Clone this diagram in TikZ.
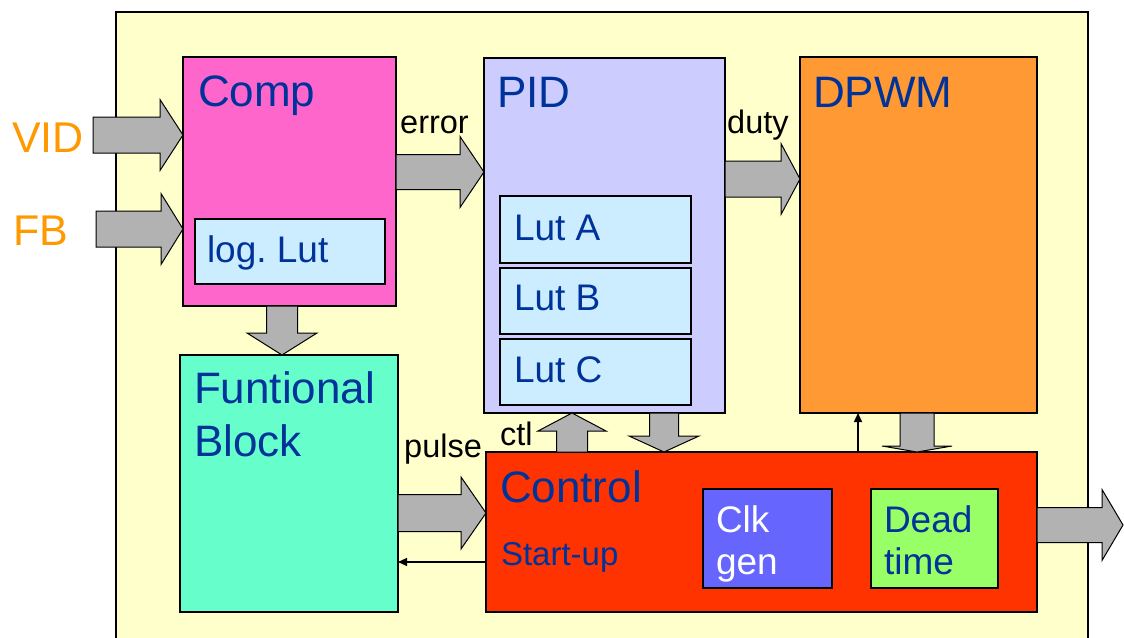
\documentclass[tikz,border=0pt]{standalone}
\usepackage{fontspec}
\setmainfont{Liberation Sans}
\usetikzlibrary{calc,arrows.meta}

\definecolor{bgyellow}{HTML}{FFFFCC}
\definecolor{compfill}{HTML}{FF66CC}
\definecolor{lutfill}{HTML}{CCECFF}
\definecolor{funcfill}{HTML}{66FFCC}
\definecolor{pidfill}{HTML}{CCCCFF}
\definecolor{dpwmfill}{HTML}{FF9933}
\definecolor{ctrlfill}{HTML}{FF3300}
\definecolor{clkfill}{HTML}{6666FF}
\definecolor{deadfill}{HTML}{99FF66}
\definecolor{textblue}{HTML}{003399}
\definecolor{arrowgray}{HTML}{B2B2B2}
\definecolor{signalorange}{HTML}{FF9900}

\tikzset{
  block/.style={draw=black, line width=1.4pt, anchor=north west, inner sep=0pt, outer sep=0pt},
  fat/.style={draw=black, line width=1pt, fill=arrowgray, line join=miter},
  wire/.style={draw=black, line width=1.5pt, -{Triangle[length=9pt,width=8pt]}},
  txt/.style={anchor=base west, inner sep=0pt, outer sep=0pt, text=textblue},
  title/.style={txt, font=\fontsize{44}{50}\selectfont},
  sub/.style={txt, font=\fontsize{37}{42}\selectfont},
  sig/.style={anchor=base west, inner sep=0pt, text=black, font=\fontsize{32.5}{38}\selectfont},
  port/.style={anchor=base west, inner sep=0pt, text=signalorange, font=\fontsize{43}{48}\selectfont},
}

% wide block arrow: #1 start, #2 tip, #3 half body width, #4 half head width, #5 head length
\newcommand\fatarrow[5]{%
  \path ($(#2)!#5pt!(#1)$) coordinate (fa-base);
  \draw[fat] ($(#1)!#3pt!90:(#2)$) -- ($(fa-base)!#3pt!90:(#2)$)
    -- ($(fa-base)!#4pt!90:(#2)$) -- (#2)
    -- ($(fa-base)!#4pt!-90:(#2)$) -- ($(fa-base)!#3pt!-90:(#2)$)
    -- ($(#1)!#3pt!-90:(#2)$) -- cycle;}

\begin{document}
\begin{tikzpicture}[x=1pt,y=-1pt]
\useasboundingbox (0,0) rectangle (1124,637);
\clip (0,0) rectangle (1124,637);

% outer board
\node[block, line width=2.6pt, fill=bgyellow, minimum width=972pt, minimum height=660pt] (board) at (116,12) {};

% main blocks
\node[block, fill=compfill, minimum width=213pt, minimum height=249pt] (comp) at (183,57) {};
\node[block, fill=lutfill, minimum width=190pt, minimum height=65pt] (loglut) at (195,219) {};
\node[block, fill=funcfill, minimum width=218pt, minimum height=257pt] (func) at (180,355) {};
\node[block, fill=pidfill, minimum width=241pt, minimum height=355pt] (pid) at (484,58) {};
\node[block, fill=lutfill, minimum width=191pt, minimum height=67pt] (luta) at (500,196) {};
\node[block, fill=lutfill, minimum width=191pt, minimum height=66pt] (lutb) at (500,268) {};
\node[block, fill=lutfill, minimum width=191pt, minimum height=66pt] (lutc) at (500,339) {};
\node[block, fill=dpwmfill, minimum width=237pt, minimum height=356pt] (dpwm) at (800,57) {};
\node[block, fill=ctrlfill, minimum width=551pt, minimum height=160pt] (ctrl) at (486,452) {};
\node[block, fill=clkfill, minimum width=129pt, minimum height=99pt] (clk) at (703,489) {};
\node[block, fill=deadfill, minimum width=127pt, minimum height=99pt] (dead) at (871,489) {};

% reference levels for the arrows
\coordinate (vidS) at (93,135);
\coordinate (fbS) at (96,229);
\coordinate (errY) at (0,172);
\coordinate (dutyY) at (0,179);
\coordinate (pulseY) at (0,513);
\coordinate (startY) at (0,562);
\coordinate (outY) at (0,525);
\coordinate (outE) at (1123,525);
\coordinate (cfX) at (282,0);
\coordinate (ctlX) at (572,0);
\coordinate (pcX) at (664,0);
\coordinate (dcX) at (917,0);
\coordinate (syncX) at (858,0);

% block arrows
\fatarrow{vidS}{comp.west |- vidS}{18}{35.5}{23}
\fatarrow{fbS}{comp.west |- fbS}{18}{35.5}{22}
\fatarrow{comp.east |- errY}{pid.west |- errY}{17.5}{35.5}{24}
\fatarrow{pid.east |- dutyY}{dpwm.west |- dutyY}{18}{35.5}{19}
\fatarrow{comp.south -| cfX}{func.north -| cfX}{15.5}{35}{22}
\fatarrow{func.east |- pulseY}{ctrl.west |- pulseY}{18.5}{36}{25}
\fatarrow{ctrl.north -| ctlX}{pid.south -| ctlX}{15.5}{34}{18}
\fatarrow{pid.south -| pcX}{ctrl.north -| pcX}{14.5}{35}{16}
\fatarrow{dpwm.south -| dcX}{ctrl.north -| dcX}{17}{35}{6}
\fatarrow{ctrl.east |- outY}{outE}{17.5}{35.5}{21}

% thin signal arrows
\draw[wire] (ctrl.north -| syncX) -- (dpwm.south -| syncX);
\draw[wire] (ctrl.west |- startY) -- (func.east |- startY);

% block titles
\node[title] (comp-t) at (198,106) {Comp};
\node[title] (pid-t) at (497,107) {PID};
\node[title] (dpwm-t) at (813,107) {DPWM};
\node[title] (func-t1) at (194,403) {Funtional};
\node[title] (func-t2) at (194,456) {Block};
\node[title] (ctrl-t) at (500,502) {Control};
\node[txt, font=\fontsize{33}{38}\selectfont] (ctrl-s) at (501,565) {Start-up};

% sub-block labels
\node[sub] (loglut-t) at (207,262) {log.\ Lut};
\node[sub] (luta-t) at (514,240) {Lut A};
\node[sub] (lutb-t) at (514,310) {Lut B};
\node[sub] (lutc-t) at (514,382) {Lut C};
\node[sub, text=white] (clk-t1) at (716,532) {Clk};
\node[sub, text=white] (clk-t2) at (716,574) {gen};
\node[sub] (dead-t1) at (884,532) {Dead};
\node[sub] (dead-t2) at (884,574) {time};

% signal names
\node[sig] (err-t) at (400,133) {error};
\node[sig] (duty-t) at (727,133) {duty};
\node[sig] (pulse-t) at (404,457) {pulse};
\node[sig] (ctl-t) at (500,445) {ctl};
\node[port] (vid-t) at (12,152) {VID};
\node[port] (fb-t) at (13,245) {FB};
\end{tikzpicture}
\end{document}
